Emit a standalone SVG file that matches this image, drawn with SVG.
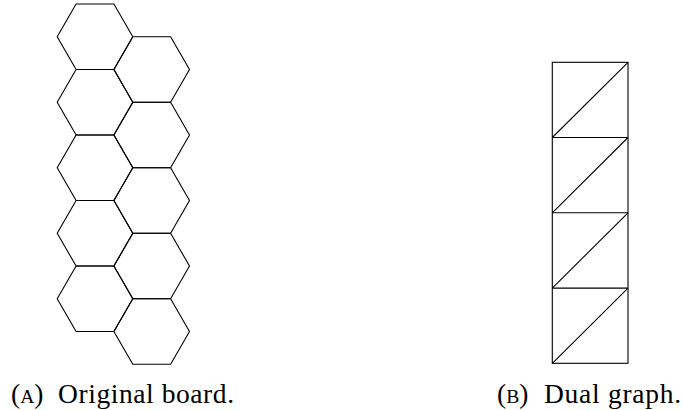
<svg xmlns="http://www.w3.org/2000/svg" width="683" height="410" viewBox="0 0 683 410">
<defs>
<style>
.hex{fill:none;stroke:#000;stroke-width:1.1;stroke-linejoin:round}
.e{fill:none;stroke:#000;stroke-width:1.1}
.cap{font-family:'Liberation Serif',serif;font-size:27.5px;fill:#000}
.sc{font-size:19.6px}
</style>
<polygon id="h" points="-37.8,0 -18.9,-32.75 18.9,-32.75 37.8,0 18.9,32.75 -18.9,32.75"/>
</defs>
<g id="board">
<use href="#h" class="hex" x="95" y="36.75"/>
<use href="#h" class="hex" x="95" y="102.25"/>
<use href="#h" class="hex" x="95" y="167.75"/>
<use href="#h" class="hex" x="95" y="233.25"/>
<use href="#h" class="hex" x="95" y="298.75"/>
<use href="#h" class="hex" x="151.7" y="69.5"/>
<use href="#h" class="hex" x="151.7" y="135"/>
<use href="#h" class="hex" x="151.7" y="200.5"/>
<use href="#h" class="hex" x="151.7" y="266"/>
<use href="#h" class="hex" x="151.7" y="331.5"/>
</g>
<g id="dual">
<rect class="e" x="552.3" y="62.3" width="75.7" height="301"/>
<line class="e" x1="552.3" y1="137.5" x2="628" y2="137.5"/>
<line class="e" x1="552.3" y1="212.8" x2="628" y2="212.8"/>
<line class="e" x1="552.3" y1="288.1" x2="628" y2="288.1"/>
<line class="e" x1="552.3" y1="137.5" x2="628" y2="62.3"/>
<line class="e" x1="552.3" y1="212.8" x2="628" y2="137.5"/>
<line class="e" x1="552.3" y1="288.1" x2="628" y2="212.8"/>
<line class="e" x1="552.3" y1="363.3" x2="628" y2="288.1"/>
</g>
<g id="captions">
<text class="cap" x="11" y="403">(<tspan class="sc">A</tspan>)</text>
<text class="cap" x="58" y="403" textLength="176" lengthAdjust="spacing">Original board.</text>
<text class="cap" x="497" y="403">(<tspan class="sc">B</tspan>)</text>
<text class="cap" x="544" y="403" textLength="137" lengthAdjust="spacing">Dual graph.</text>
</g>
</svg>
